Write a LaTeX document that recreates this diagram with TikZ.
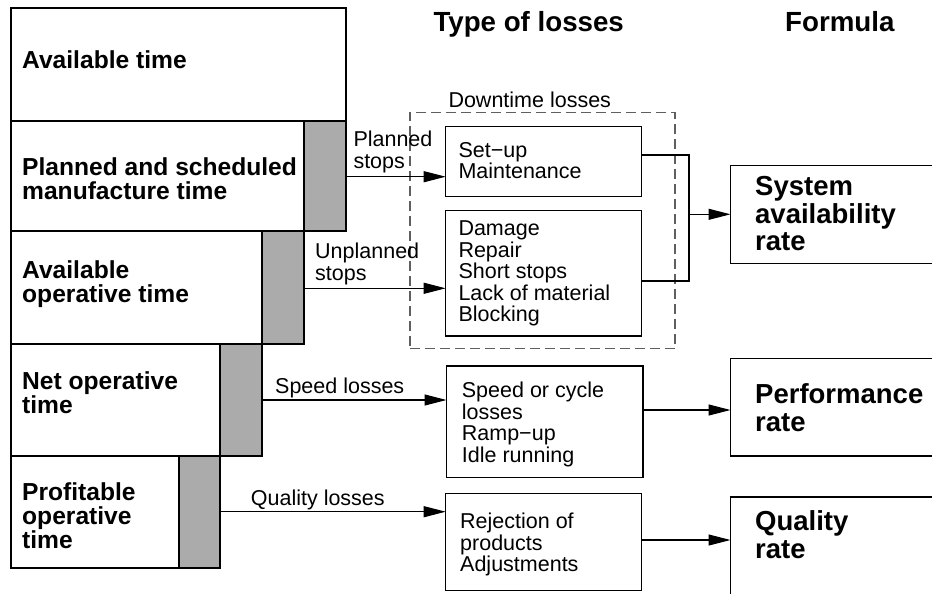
\documentclass[tikz,border=0pt]{standalone}
\usepackage{fontspec}
\setmainfont{Liberation Sans}
\usetikzlibrary{arrows.meta,calc}
\definecolor{lossgray}{RGB}{171,171,171}
\definecolor{dashgray}{RGB}{95,95,95}

\begin{document}
\begin{tikzpicture}[x=1pt,y=-1pt,
  box/.style={draw=black, line width=1.2pt, rectangle, inner sep=0pt, outer sep=0pt, anchor=north west},
  lossbar/.style={box, fill=lossgray},
  groupbox/.style={draw=dashgray, line width=1.1pt, dash pattern=on 10pt off 5pt, rectangle, inner sep=0pt, outer sep=0pt, anchor=north west},
  conn/.style={line width=1.1pt},
  arr/.style={conn, -{Triangle[length=22pt,width=11pt]}},
  timetext/.style={inner sep=0pt, anchor=north west, align=left, font=\fontsize{24.6pt}{24pt}\selectfont\bfseries},
  ratetext/.style={inner sep=0pt, anchor=north west, align=left, font=\fontsize{27.5pt}{27.5pt}\selectfont\bfseries},
  losstext/.style={inner sep=0pt, anchor=north west, align=left, font=\fontsize{21.5pt}{21.6pt}\selectfont},
  flowtext/.style={inner sep=0pt, anchor=base west, font=\fontsize{21.5pt}{21.6pt}\selectfont},
  headtext/.style={inner sep=0pt, anchor=base west, font=\fontsize{27.7pt}{28pt}\selectfont\bfseries}]

\useasboundingbox (0,0) rectangle (932,594);
\clip (0,0) rectangle (932,594);

% column headings
\node[headtext] (hloss) at (433.3,31.7) {Type of losses};
\node[headtext] (hform) at (785,31.7) {Formula};

% staircase of time categories with their loss bars
\node[box, minimum width=335pt, minimum height=113pt] (avail) at (11,8) {};
\node[box, minimum width=293pt, minimum height=110pt] (plan) at (11,121) {};
\node[lossbar, minimum width=42pt, minimum height=110pt] (plang) at (304,121) {};
\node[box, minimum width=251pt, minimum height=113pt] (avop) at (11,231) {};
\node[lossbar, minimum width=42pt, minimum height=113pt] (avopg) at (262,231) {};
\node[box, minimum width=209pt, minimum height=112pt] (net) at (11,344) {};
\node[lossbar, minimum width=42pt, minimum height=112pt] (netg) at (220,344) {};
\node[box, minimum width=168pt, minimum height=112pt] (prof) at (11,456) {};
\node[lossbar, minimum width=41pt, minimum height=112pt] (profg) at (179,456) {};

\node[timetext] (availt) at (22,50.6) {Available time};
\node[timetext] (plant) at (22,157.3) {Planned and scheduled\\manufacture time};
\node[timetext] (avopt) at (22,260.6) {Available\\operative time};
\node[timetext] (nett) at (22,371.6) {Net operative\\time};
\node[timetext] (proft) at (22,482.3) {Profitable\\operative\\time};

% loss types
\node[groupbox, minimum width=265pt, minimum height=236.2pt] (down) at (410,112.3) {};
\node[flowtext] (downt) at (448.3,107.3) {Downtime losses};

\node[box, minimum width=196pt, minimum height=70pt] (setup) at (445.7,126.7) {};
\node[box, minimum width=196pt, minimum height=125.3pt] (damage) at (445.7,210.7) {};
\node[box, minimum width=196.5pt, minimum height=111.3pt] (speed) at (446.5,366) {};
\node[box, minimum width=196pt, minimum height=97.4pt] (reject) at (445.7,493.3) {};

\node[losstext] (setupt) at (458.3,141.8) {Set−up\\Maintenance};
\node[losstext] (damaget) at (458.3,220.5) {Damage\\Repair\\Short stops\\Lack of material\\Blocking};
\node[losstext] (speedt) at (461.7,381.8) {Speed or cycle\\losses\\Ramp−up\\Idle running};
\node[losstext] (rejectt) at (460,512.8) {Rejection of\\products\\Adjustments};

% formula boxes
\node[box, minimum width=230pt, minimum height=97.8pt] (sys) at (730.5,165.5) {};
\node[box, minimum width=230pt, minimum height=97.7pt] (perf) at (730.5,358.3) {};
\node[box, minimum width=230pt, minimum height=120pt] (qual) at (730.5,497) {};

\node[ratetext] (syst) at (755,176.2) {System\\availability\\rate};
\node[ratetext] (perft) at (755,383.5) {Performance\\rate};
\node[ratetext] (qualt) at (755,510.5) {Quality\\rate};

% flows from the loss bars to the loss types
\draw[arr] ($(plang.north east)+(0,55.7)$) coordinate (ps) -- (ps -| setup.west);
\draw[arr] ($(avopg.north east)+(0,57.3)$) coordinate (us) -- (us -| damage.west);
\draw[arr] ($(netg.north east)+(0,56)$) coordinate (sl) -- (sl -| speed.west);
\draw[arr] ($(profg.north east)+(0,55.7)$) coordinate (ql) -- (ql -| reject.west);

\node[losstext] (pst) at (353.3,131.2) {Planned\\stops};
\node[losstext] (ust) at (315,242.8) {Unplanned\\stops};
\node[flowtext] (slt) at (275,393.3) {Speed losses};
\node[flowtext] (qlt) at (250.7,505.7) {Quality losses};

% flows from the loss types to the rates
\draw[conn] ($(setup.north east)+(0,28.3)$) -- ++(47.3,0) coordinate (jt)
  |- ($(damage.north east)+(0,70.3)$);
\coordinate (jm) at ($(jt)+(0,59.3)$);
\draw[arr] (jm) -- (jm -| sys.west);
\draw[arr] ($(speed.north east)+(0,44)$) coordinate (sr) -- (sr -| perf.west);
\draw[arr] ($(reject.north east)+(0,46.7)$) coordinate (rr) -- (rr -| qual.west);

\end{tikzpicture}
\end{document}
